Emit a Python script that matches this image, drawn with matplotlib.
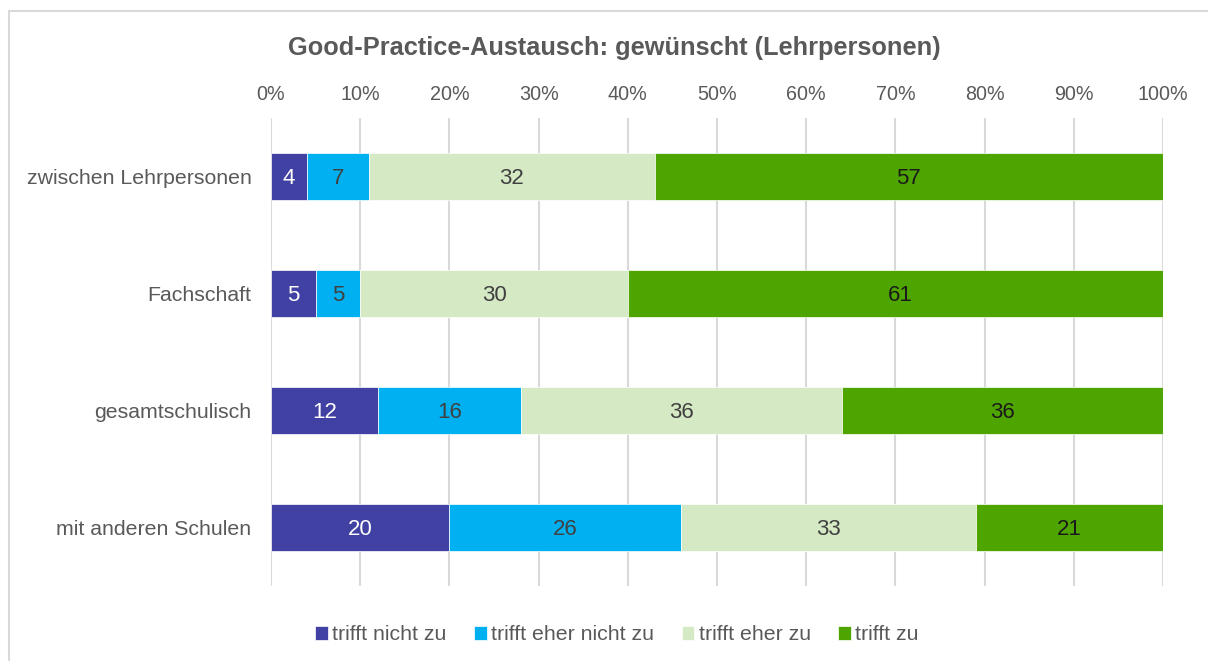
import numpy as np
import matplotlib.pyplot as plt
import matplotlib.patches as mpatches

plt.rcParams['font.family'] = ['Liberation Sans', 'DejaVu Sans']

#-------- Data --------#
categories = ['zwischen Lehrpersonen', 'Fachschaft', 'gesamtschulisch', 'mit anderen Schulen']
series_names = ['trifft nicht zu', 'trifft eher nicht zu', 'trifft eher zu', 'trifft zu']
nicht_zu = [4, 5, 12, 20]
eher_nicht_zu = [7, 5, 16, 26]
eher_zu = [32, 30, 36, 33]
zu = [57, 61, 36, 21]
ticks = [0, 10, 20, 30, 40, 50, 60, 70, 80, 90, 100]

colors = ['#4141A3', '#00B0F0', '#D5E9C4', '#4FA500']
label_colors = ['white', '#404040', '#404040', '#1a1a1a']
grey = '#595959'

#-------- Plot --------#
fig = plt.figure(figsize=(12.08, 6.61), dpi=100)
ax = fig.add_axes([271/1208, 1 - 586/661, (1163-271)/1208, (586-118)/661])

y = np.arange(len(categories))
left = np.zeros(len(categories))
for vals, name, c, lc in zip([nicht_zu, eher_nicht_zu, eher_zu, zu], series_names, colors, label_colors):
    vals = np.array(vals, dtype=float)
    bars = ax.barh(y, vals, left=left, height=0.4, color=c, label=name,
                   edgecolor='white', linewidth=0.5, zorder=3)
    #labels in the middle of each segment
    for b, v in zip(bars, vals):
        ax.text(b.get_x() + b.get_width() / 2, b.get_y() + b.get_height() / 2 + 0.02,
                str(int(v)), ha='center', va='center', color=lc, fontsize=16, zorder=4)
    left += vals

ax.set_xlim(0, 100)
ax.set_ylim(len(categories) - 0.5, -0.5)
ax.set_yticks(y)
ax.set_yticklabels(categories, fontsize=15.3, color=grey)
ax.set_xticks(ticks)
ax.set_xticklabels([f'{t}%' for t in ticks], fontsize=14.2, color=grey)
ax.xaxis.tick_top()
ax.tick_params(axis='x', length=0, pad=10)
ax.tick_params(axis='y', length=0, pad=14)
for s in ax.spines.values():
    s.set_visible(False)
ax.grid(axis='x', color='#d9d9d9', lw=1.5, zorder=0)
ax.set_axisbelow(True)

fig.text(614/1208, 1 - 48/661, 'Good-Practice-Austausch: gewünscht (Lehrpersonen)',
         ha='center', va='center', fontsize=18.3, fontweight='bold', color=grey)

fig.legend(loc='center', bbox_to_anchor=(617/1208, 1 - 635/661), ncol=4, frameon=False,
           fontsize=15.3, labelcolor=grey, handlelength=0.6, handleheight=0.6,
           handletextpad=0.2, columnspacing=1.3)

# outer chart border
fig.patches.append(mpatches.Rectangle((9/1208, -0.1), 1.2, 1.1 - 11/661,
                                      transform=fig.transFigure, fill=False,
                                      edgecolor='#d9d9d9', lw=1.5))

fig.savefig('out.png', dpi=100)
